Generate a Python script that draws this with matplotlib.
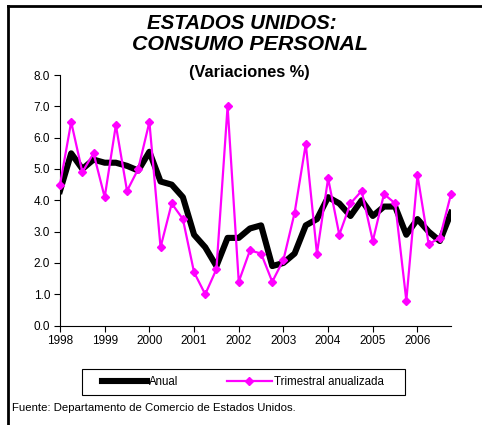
import numpy as np
import matplotlib.pyplot as plt
from matplotlib.patches import Rectangle

plt.rcParams['font.family'] = ['Liberation Sans', 'DejaVu Sans']

years = ['1998', '1999', '2000', '2001', '2002', '2003', '2004', '2005', '2006']

# variacion anual (trimestre vs mismo trimestre del ano anterior), 1998T1-2006T4
anual = [4.3, 5.5, 5.0, 5.3, 5.2, 5.2, 5.1, 4.95, 5.55, 4.6, 4.5, 4.1,
         2.9, 2.5, 1.9, 2.8, 2.8, 3.1, 3.2, 1.9, 2.0, 2.3, 3.2, 3.4,
         4.1, 3.9, 3.5, 4.0, 3.5, 3.8, 3.8, 2.9, 3.4, 3.0, 2.7, 3.6]

# variacion trimestral anualizada
trimestral = [4.5, 6.5, 4.9, 5.5, 4.1, 6.4, 4.3, 5.0, 6.5, 2.5, 3.9, 3.4,
              1.7, 1.0, 1.8, 7.0, 1.4, 2.4, 2.3, 1.4, 2.1, 3.6, 5.8, 2.3,
              4.7, 2.9, 3.9, 4.3, 2.7, 4.2, 3.9, 0.8, 4.8, 2.6, 2.8, 4.2]

x = np.arange(len(anual))

fig = plt.figure(figsize=(4.82, 4.25), dpi=100)
ax = fig.add_axes([0.1245, 0.2339, 0.8112, 0.5896])

ax.plot(x, anual, color='black', lw=4.4, solid_joinstyle='round',
        label='Anual', zorder=2)
ax.plot(x, trimestral, color='#FF00FF', lw=1.6, marker='D', ms=4.2,
        label='Trimestral anualizada', clip_on=False, zorder=3)

ax.set_xlim(0, 35)
ax.set_ylim(0, 8)
ax.set_xticks(np.arange(0, 36, 4))
ax.set_xticklabels(years, fontsize=8.5)
ax.set_yticks(np.arange(0, 8.1, 1))
ax.set_yticklabels(['%.1f' % v for v in np.arange(0, 8.1, 1)], fontsize=8.5)
ax.tick_params(direction='out', length=4, width=0.8, pad=3)
for s in ['top', 'right']:
    ax.spines[s].set_visible(False)
for s in ['left', 'bottom']:
    ax.spines[s].set_linewidth(0.8)

# titles
fig.text(0.502, 1 - 23.5 / 425, 'ESTADOS UNIDOS:', ha='center', va='center',
         fontsize=14.8, fontweight='bold', fontstyle='italic')
fig.text(0.518, 1 - 44.5 / 425, 'CONSUMO PERSONAL', ha='center', va='center',
         fontsize=15.4, fontweight='bold', fontstyle='italic')
fig.text(0.518, 1 - 73 / 425, '(Variaciones %)', ha='center', va='center',
         fontsize=11.8, fontweight='bold')

leg = fig.legend(loc='center', bbox_to_anchor=(243 / 482, 1 - 382 / 425),
                 ncol=2, fontsize=8.3, frameon=False,
                 handlelength=3.9, columnspacing=4.2, handletextpad=0.15,
                 borderpad=0, borderaxespad=0)
# legend box drawn separately (wide, flat frame)
fig.add_artist(Rectangle((82 / 482, 1 - 395 / 425), 323 / 482, 26 / 425,
                         transform=fig.transFigure, fill=False,
                         edgecolor='black', lw=0.8))

fig.text(12 / 482, 1 - 408 / 425, 'Fuente: Departamento de Comercio de Estados Unidos.',
         ha='left', va='center', fontsize=8.2)

# frame (top and left edges only)
fig.add_artist(plt.Line2D([8 / 482, 1], [1 - 6 / 425, 1 - 6 / 425],
                          transform=fig.transFigure, color='black', lw=2))
fig.add_artist(plt.Line2D([8 / 482, 8 / 482], [0, 1 - 6 / 425],
                          transform=fig.transFigure, color='black', lw=2))

fig.savefig('out.png', dpi=100)
